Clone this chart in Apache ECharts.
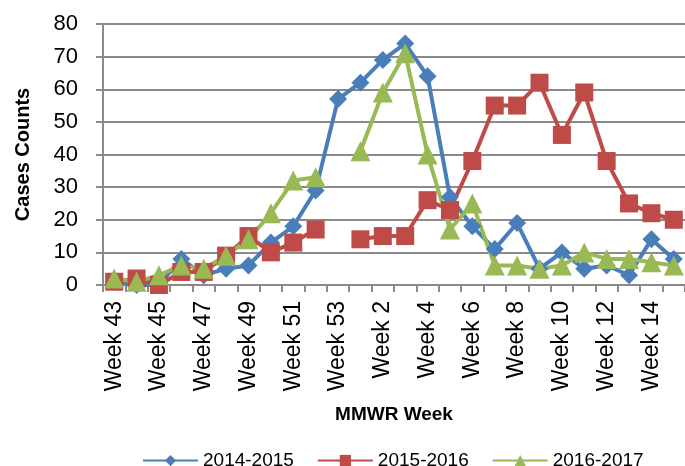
<!DOCTYPE html>
<html>
<head>
<meta charset="utf-8">
<script src="https://cdn.jsdelivr.net/npm/echarts@6/dist/echarts.min.js"></script>
<style>
  html, body { margin: 0; padding: 0; background: #fff; }
  #chart { width: 685px; height: 466px; }
</style>
</head>
<body>
<div id="chart"></div>
<script>
// 周次
var weeks = ['Week 43', 'Week 44', 'Week 45', 'Week 46', 'Week 47', 'Week 48', 'Week 49',
  'Week 50', 'Week 51', 'Week 52', 'Week 53', 'Week 1', 'Week 2', 'Week 3', 'Week 4',
  'Week 5', 'Week 6', 'Week 7', 'Week 8', 'Week 9', 'Week 10', 'Week 11', 'Week 12',
  'Week 13', 'Week 14', 'Week 15'];
var season1 = [1, 0, 0, 8, 3, 5, 6, 13, 18, 29, 57, 62, 69, 74, 64, 27, 18, 11, 19, 5, 10, 5, 6, 3, 14, 8];
var season2 = [1, 2, 0, 4, 4, 9, 15, 10, 13, 17, null, 14, 15, 15, 26, 23, 38, 55, 55, 62, 46, 59, 38, 25, 22, 20];
var season3 = [2, 1, 3, 6, 5, 9, 14, 22, 32, 33, null, 41, 59, 71, 40, 17, 25, 6, 6, 5, 6, 10, 8, 8, 7, 6];
var yTicks = [0, 80, 10];

var chart = echarts.init(document.getElementById('chart'));
var font = '"Liberation Sans", Arial, sans-serif';

function lineSeries(name, data, color, symbol, size) {
  return {
    name: name,
    type: 'line',
    data: data,
    symbol: symbol,
    symbolSize: size,
    showSymbol: true,
    showAllSymbol: true,
    connectNulls: false,
    lineStyle: { color: color, width: 4 },
    itemStyle: { color: color },
    animation: false
  };
}

var option = {
  animation: false,
  textStyle: { fontFamily: font },
  grid: { left: 103, top: 24, right: -8, bottom: 181 },
  legend: {
    top: 446,
    left: 137,
    itemWidth: 55,
    itemHeight: 14,
    itemGap: 23,
    textStyle: { fontSize: 19, color: '#000', fontFamily: font },
    data: ['2014-2015', '2015-2016', '2016-2017']
  },
  xAxis: {
    type: 'category',
    data: weeks,
    boundaryGap: true,
    name: 'MMWR Week',
    nameLocation: 'middle',
    nameGap: 120,
    nameTextStyle: { fontSize: 19, fontWeight: 'bold', color: '#000', fontFamily: font },
    axisLine: { lineStyle: { color: '#8a8a8a', width: 2 } },
    axisTick: { show: true, interval: 0, length: 7, lineStyle: { color: '#8a8a8a', width: 2 } },
    axisLabel: { interval: 1, rotate: 90, fontSize: 23, color: '#000', margin: 16, fontFamily: font },
    splitLine: { show: false }
  },
  yAxis: {
    type: 'value',
    min: yTicks[0],
    max: yTicks[1],
    interval: yTicks[2],
    name: 'Cases Counts',
    nameLocation: 'middle',
    nameGap: 70,
    nameTextStyle: { fontSize: 20, fontWeight: 'bold', color: '#000', fontFamily: font },
    axisLine: { show: true, lineStyle: { color: '#8a8a8a', width: 2 } },
    axisTick: { show: true, length: 7, lineStyle: { color: '#8a8a8a', width: 2 } },
    axisLabel: { fontSize: 22, color: '#000', margin: 25, fontFamily: font },
    splitLine: { lineStyle: { color: '#8a8a8a', width: 2 } }
  },
  series: [
    lineSeries('2014-2015', season1, '#4a7ebb', 'diamond', 18),
    lineSeries('2015-2016', season2, '#be4b48', 'rect', 18),
    lineSeries('2016-2017', season3, '#98b954', 'triangle', 20)
  ]
};

chart.setOption(option);
</script>
</body>
</html>
